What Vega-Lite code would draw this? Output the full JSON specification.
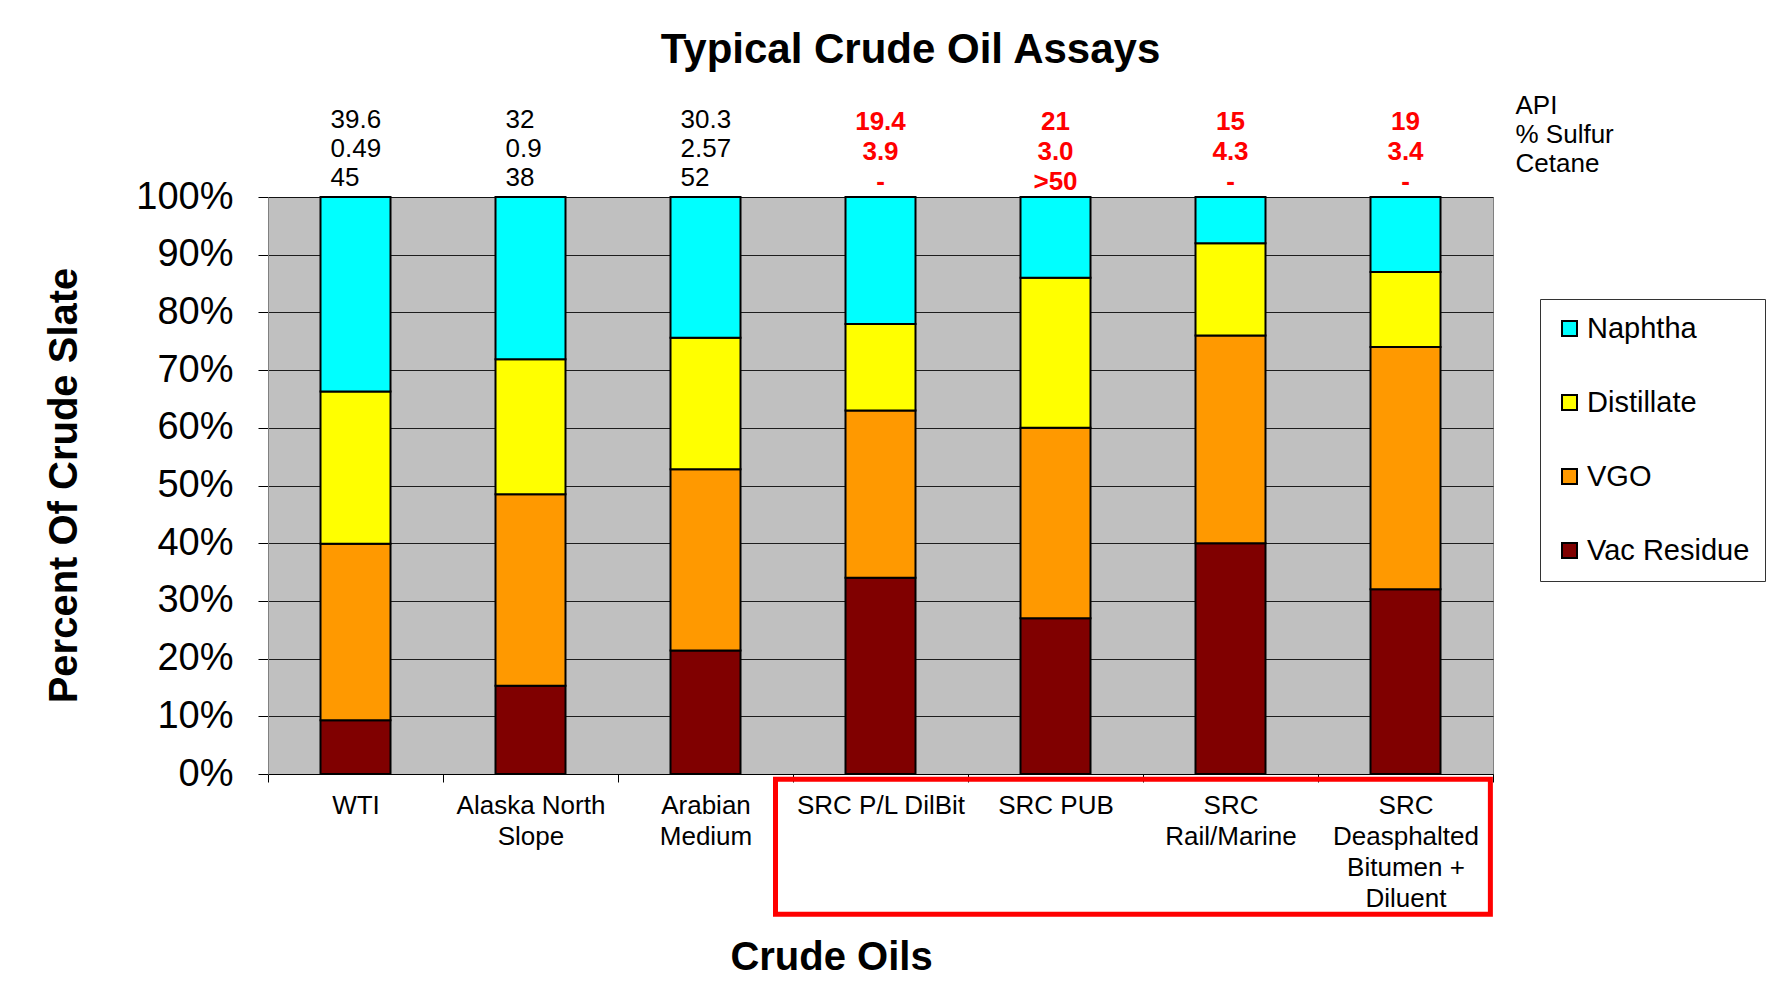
{
  "$schema": "https://vega.github.io/schema/vega-lite/v6.json",
  "width": 1225,
  "height": 577,
  "autosize": {"type": "none"},
  "padding": {"left": 268, "top": 197, "right": 274, "bottom": 230},
  "background": "white",
  "title": {"text": "Typical Crude Oil Assays", "fontSize": 42, "fontWeight": "bold", "font": "Liberation Sans", "color": "black", "anchor": "middle", "dx": 30, "offset": 21},
  "config": {
    "font": "Liberation Sans",
    "view": {"fill": "#C0C0C0", "stroke": "#808080", "strokeWidth": 1}
  },
  "datasets": {
    "slate": [
      {"crude": "WTI", "fraction": "Vac Residue", "boiling_order": 4, "percent": 9.3},
      {"crude": "WTI", "fraction": "VGO", "boiling_order": 3, "percent": 30.6},
      {"crude": "WTI", "fraction": "Distillate", "boiling_order": 2, "percent": 26.4},
      {"crude": "WTI", "fraction": "Naphtha", "boiling_order": 1, "percent": 33.7},
      {"crude": "Alaska North Slope", "fraction": "Vac Residue", "boiling_order": 4, "percent": 15.3},
      {"crude": "Alaska North Slope", "fraction": "VGO", "boiling_order": 3, "percent": 33.2},
      {"crude": "Alaska North Slope", "fraction": "Distillate", "boiling_order": 2, "percent": 23.4},
      {"crude": "Alaska North Slope", "fraction": "Naphtha", "boiling_order": 1, "percent": 28.1},
      {"crude": "Arabian Medium", "fraction": "Vac Residue", "boiling_order": 4, "percent": 21.4},
      {"crude": "Arabian Medium", "fraction": "VGO", "boiling_order": 3, "percent": 31.4},
      {"crude": "Arabian Medium", "fraction": "Distillate", "boiling_order": 2, "percent": 22.8},
      {"crude": "Arabian Medium", "fraction": "Naphtha", "boiling_order": 1, "percent": 24.4},
      {"crude": "SRC P/L DilBit", "fraction": "Vac Residue", "boiling_order": 4, "percent": 34},
      {"crude": "SRC P/L DilBit", "fraction": "VGO", "boiling_order": 3, "percent": 29},
      {"crude": "SRC P/L DilBit", "fraction": "Distillate", "boiling_order": 2, "percent": 15},
      {"crude": "SRC P/L DilBit", "fraction": "Naphtha", "boiling_order": 1, "percent": 22},
      {"crude": "SRC PUB", "fraction": "Vac Residue", "boiling_order": 4, "percent": 27},
      {"crude": "SRC PUB", "fraction": "VGO", "boiling_order": 3, "percent": 33},
      {"crude": "SRC PUB", "fraction": "Distillate", "boiling_order": 2, "percent": 26},
      {"crude": "SRC PUB", "fraction": "Naphtha", "boiling_order": 1, "percent": 14},
      {"crude": "SRC Rail/Marine", "fraction": "Vac Residue", "boiling_order": 4, "percent": 40},
      {"crude": "SRC Rail/Marine", "fraction": "VGO", "boiling_order": 3, "percent": 36},
      {"crude": "SRC Rail/Marine", "fraction": "Distillate", "boiling_order": 2, "percent": 16},
      {"crude": "SRC Rail/Marine", "fraction": "Naphtha", "boiling_order": 1, "percent": 8},
      {"crude": "SRC Deasphalted Bitumen + Diluent", "fraction": "Vac Residue", "boiling_order": 4, "percent": 32},
      {"crude": "SRC Deasphalted Bitumen + Diluent", "fraction": "VGO", "boiling_order": 3, "percent": 42},
      {"crude": "SRC Deasphalted Bitumen + Diluent", "fraction": "Distillate", "boiling_order": 2, "percent": 13},
      {"crude": "SRC Deasphalted Bitumen + Diluent", "fraction": "Naphtha", "boiling_order": 1, "percent": 13}
    ],
    "assays": [
      {"crude": "WTI", "source": "Conventional", "api": "39.6", "sulfur": "0.49", "cetane": "45"},
      {"crude": "Alaska North Slope", "source": "Conventional", "api": "32", "sulfur": "0.9", "cetane": "38"},
      {"crude": "Arabian Medium", "source": "Conventional", "api": "30.3", "sulfur": "2.57", "cetane": "52"},
      {"crude": "SRC P/L DilBit", "source": "SRC", "api": "19.4", "sulfur": "3.9", "cetane": "-"},
      {"crude": "SRC PUB", "source": "SRC", "api": "21", "sulfur": "3.0", "cetane": ">50"},
      {"crude": "SRC Rail/Marine", "source": "SRC", "api": "15", "sulfur": "4.3", "cetane": "-"},
      {"crude": "SRC Deasphalted Bitumen + Diluent", "source": "SRC", "api": "19", "sulfur": "3.4", "cetane": "-"}
    ]
  },
  "layer": [
    {
      "data": {"name": "slate"},
      "mark": {"type": "bar", "width": {"band": 0.4}, "stroke": "black", "strokeWidth": 2},
      "encoding": {
        "x": {
          "field": "crude", "type": "nominal", "sort": null,
          "scale": {"domain": ["WTI", "Alaska North Slope", "Arabian Medium", "SRC P/L DilBit", "SRC PUB", "SRC Rail/Marine", "SRC Deasphalted Bitumen + Diluent"], "paddingInner": 0, "paddingOuter": 0},
          "axis": {
            "title": "Crude Oils", "titleFontSize": 40, "titleFontWeight": "bold", "titleColor": "black",
            "titleX": 563, "titleY": 195, "titleBaseline": "alphabetic", "titleAlign": "center",
            "labelAngle": 0, "labelFontSize": 26, "labelColor": "black", "labelPadding": 10, "labelLineHeight": 31,
            "labelBaseline": "top", "labelLimit": 400, "labelOverlap": false, "labelBound": false,
            "labelExpr": "datum.value == 'Alaska North Slope' ? ['Alaska North', 'Slope'] : datum.value == 'Arabian Medium' ? ['Arabian', 'Medium'] : datum.value == 'SRC Rail/Marine' ? ['SRC', 'Rail/Marine'] : datum.value == 'SRC Deasphalted Bitumen + Diluent' ? ['SRC', 'Deasphalted', 'Bitumen +', 'Diluent'] : datum.label",
            "tickBand": "extent", "tickSize": 8, "tickColor": "black", "domainColor": "black", "domainWidth": 1, "grid": false
          }
        },
        "y": {
          "field": "percent", "type": "quantitative", "stack": "zero",
          "scale": {"domain": [0, 100], "nice": false},
          "axis": {
            "title": "Percent Of Crude Slate", "titleFontSize": 40, "titleFontWeight": "bold", "titleColor": "black",
            "titleX": -204, "titleY": 288, "titleAngle": 270, "titleAlign": "center", "titleBaseline": "middle",
            "values": [0, 10, 20, 30, 40, 50, 60, 70, 80, 90, 100],
            "labelExpr": "datum.value + '%'", "labelFontSize": 38, "labelColor": "black", "labelPadding": 25,
            "tickSize": 10, "tickColor": "black", "domainColor": "#808080",
            "grid": true, "gridColor": "black", "gridWidth": 1, "gridOpacity": 0.85
          }
        },
        "color": {
          "field": "fraction", "type": "nominal",
          "scale": {"domain": ["Naphtha", "Distillate", "VGO", "Vac Residue"], "range": ["#00FFFF", "#FFFF00", "#FF9900", "#800000"]},
          "legend": {
            "title": null, "orient": "none", "legendX": 1272, "legendY": 102, "direction": "vertical",
            "labelFontSize": 29, "labelColor": "black", "labelLimit": 300, "labelOffset": 3,
            "symbolType": "square", "symbolSize": 225, "symbolStrokeColor": "black", "symbolStrokeWidth": 2, "symbolOpacity": 1,
            "rowPadding": 44, "padding": 15, "strokeColor": "#333333", "fillColor": "white"
          }
        },
        "order": {"field": "boiling_order", "type": "quantitative", "sort": "descending"}
      }
    },
    {
      "data": {"name": "assays"},
      "transform": [{"filter": "datum.source == 'Conventional'"}],
      "encoding": {
        "x": {"field": "crude", "type": "nominal", "sort": null},
        "y": {"datum": 100}
      },
      "layer": [
        {"mark": {"type": "text", "align": "left", "baseline": "middle", "dx": -25, "dy": -77, "fontSize": 26, "fill": "black"}, "encoding": {"text": {"field": "api", "type": "nominal"}}},
        {"mark": {"type": "text", "align": "left", "baseline": "middle", "dx": -25, "dy": -48, "fontSize": 26, "fill": "black"}, "encoding": {"text": {"field": "sulfur", "type": "nominal"}}},
        {"mark": {"type": "text", "align": "left", "baseline": "middle", "dx": -25, "dy": -19, "fontSize": 26, "fill": "black"}, "encoding": {"text": {"field": "cetane", "type": "nominal"}}}
      ]
    },
    {
      "data": {"name": "assays"},
      "transform": [{"filter": "datum.source == 'SRC'"}],
      "encoding": {
        "x": {"field": "crude", "type": "nominal", "sort": null},
        "y": {"datum": 100}
      },
      "layer": [
        {"mark": {"type": "text", "align": "center", "baseline": "middle", "dy": -75, "fontSize": 26, "fontWeight": "bold", "fill": "#FF0000"}, "encoding": {"text": {"field": "api", "type": "nominal"}}},
        {"mark": {"type": "text", "align": "center", "baseline": "middle", "dy": -45, "fontSize": 26, "fontWeight": "bold", "fill": "#FF0000"}, "encoding": {"text": {"field": "sulfur", "type": "nominal"}}},
        {"mark": {"type": "text", "align": "center", "baseline": "middle", "dy": -15, "fontSize": 26, "fontWeight": "bold", "fill": "#FF0000"}, "encoding": {"text": {"field": "cetane", "type": "nominal"}}}
      ]
    },
    {
      "data": {"values": [{"crude": "SRC Deasphalted Bitumen + Diluent", "properties": "API\n% Sulfur\nCetane"}]},
      "mark": {"type": "text", "align": "left", "baseline": "alphabetic", "lineBreak": "\n", "lineHeight": 29, "dx": 110, "dy": -83, "fontSize": 26, "fill": "black"},
      "encoding": {
        "x": {"field": "crude", "type": "nominal", "sort": null},
        "y": {"datum": 100},
        "text": {"field": "properties", "type": "nominal"}
      }
    },
    {
      "data": {"values": [{"crude": "SRC P/L DilBit", "crude_end": "SRC Deasphalted Bitumen + Diluent"}]},
      "mark": {"type": "rect", "filled": false, "stroke": "#FF0000", "strokeWidth": 5},
      "encoding": {
        "x": {"field": "crude", "type": "nominal", "sort": null, "bandPosition": -0.1},
        "x2": {"field": "crude_end", "bandPosition": 0.985},
        "y": {"datum": -0.9},
        "y2": {"datum": -24.3}
      }
    }
  ]
}
